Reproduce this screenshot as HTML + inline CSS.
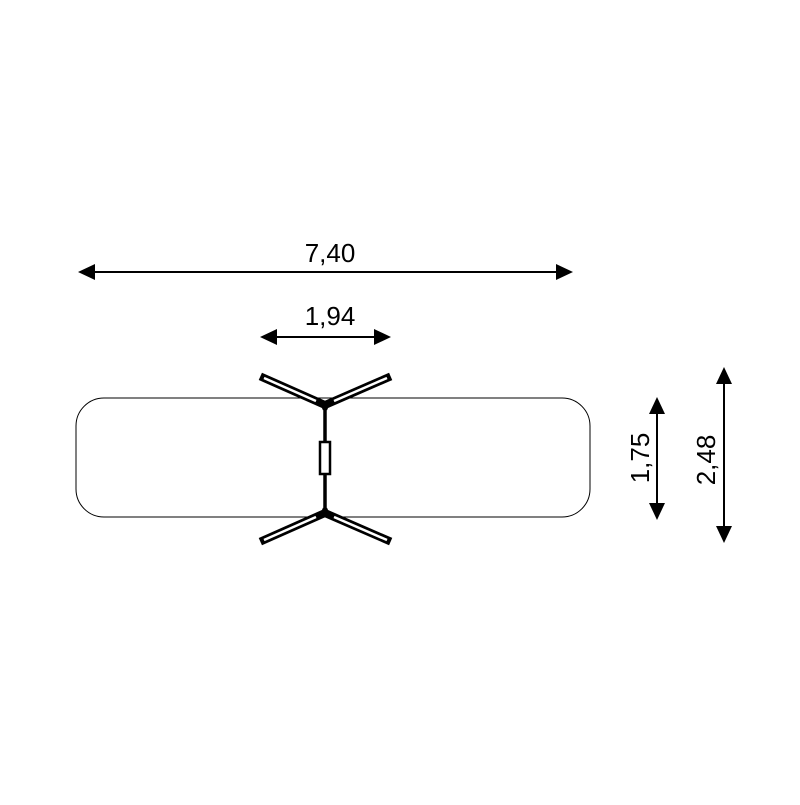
<!DOCTYPE html>
<html><head><style>body{margin:0;background:#fff}</style></head><body>
<svg width="800" height="800" xmlns="http://www.w3.org/2000/svg" font-family="Liberation Sans, sans-serif">
<rect width="800" height="800" fill="#fff"/>
<rect x="76" y="398" width="514" height="119" rx="28" fill="none" stroke="#000" stroke-width="1"/>
<g stroke="#000">
 <line x1="325" y1="405" x2="325" y2="513" stroke-width="3.5"/>
 <rect x="320" y="442" width="10" height="32" fill="#fff" stroke-width="2.5"/>
 <g stroke-width="8" stroke-linecap="square"><line x1="325" y1="405" x2="264" y2="378"/><line x1="325" y1="405" x2="387" y2="378"/><line x1="325" y1="513" x2="264" y2="540"/><line x1="325" y1="513" x2="387" y2="540"/></g>
 <g stroke="#fff" stroke-width="2.5"><line x1="316" y1="401" x2="264" y2="378"/><line x1="334" y1="401" x2="387" y2="378"/><line x1="316" y1="517" x2="264" y2="540"/><line x1="334" y1="517" x2="387" y2="540"/></g>
 <circle cx="325" cy="405" r="3" fill="#000"/><circle cx="325" cy="513" r="3" fill="#000"/>
</g>
<g stroke="#000" stroke-width="2">
 <line x1="90" y1="272" x2="560" y2="272"/>
 <line x1="272" y1="337" x2="378" y2="337"/>
 <line x1="657" y1="410" x2="657" y2="507"/>
 <line x1="724" y1="380" x2="724" y2="530"/>
</g>
<g fill="#000">
 <polygon points="78,272 95,264 95,280"/><polygon points="573,272 556,264 556,280"/>
 <polygon points="260,337 277,329 277,345"/><polygon points="391,337 374,329 374,345"/>
 <polygon points="657,397 649,414 665,414"/><polygon points="657,520 649,503 665,503"/>
 <polygon points="724,367 716,384 732,384"/><polygon points="724,543 716,526 732,526"/>
</g>
<g font-size="26" fill="#000" text-anchor="middle">
 <text x="330" y="262">7,40</text>
 <text x="330" y="325">1,94</text>
 <text transform="translate(649,458) rotate(-90)">1,75</text>
 <text transform="translate(715,460) rotate(-90)">2,48</text>
</g>
</svg>
</body></html>
